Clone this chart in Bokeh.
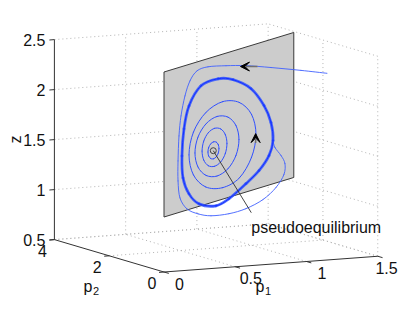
import numpy as np
from bokeh.plotting import figure
from bokeh.models import Range1d, Arrow, VeeHead
from bokeh.core.properties import value
from bokeh.embed import file_html
from bokeh.resources import INLINE

# ---------------- data ----------------
P1_RANGE = [0.0, 1.5]
P2_RANGE = [0.0, 4.0]
Z_RANGE = [0.5, 2.5]
P1_TICKS = [0.0, 0.5, 1.0, 1.5]
P1_TICK_LABELS = ["0", "0.5", "1", "1.5"]
P2_TICKS = [0.0, 2.0, 4.0]
P2_TICK_LABELS = ["0", "2", "4"]
Z_TICKS = [0.5, 1.0, 1.5, 2.0, 2.5]
Z_TICK_LABELS = ["0.5", "1", "1.5", "2", "2.5"]

# switching plane  p2 = SWITCH_SLOPE * p1
SWITCH_SLOPE = 2.0
PLANE_P1 = [0.0, 1.48]
PLANE_Z = [1.05, 2.5]

EQ_P1 = [0.562]
EQ_Z = [1.563]
EQ_LABEL = ["pseudoequilibrium"]

# trajectory arriving from outside (p1, z), lying in the switching surface p2 = 2 p1
incoming_p1 = [1.858, 1.562, 1.220, 0.935, 0.707, 0.502, 0.376, 0.296, 0.239, 0.194,
               0.171, 0.160, 0.160, 0.182, 0.262, 0.388, 0.536, 0.741, 0.935, 1.129,
               1.277, 1.368, 1.379, 1.334, 1.265, 1.243]
incoming_z = [1.991, 2.099, 2.219, 2.314, 2.374, 2.418, 2.411, 2.332, 2.197, 2.009,
              1.815, 1.568, 1.368, 1.192, 1.061, 0.978, 0.919, 0.885, 0.884, 0.923,
              1.004, 1.110, 1.217, 1.309, 1.407, 1.483]

# attracting cycle (dense band)
band_p1 = [1.243, 1.220, 1.140, 0.992, 0.787, 0.616, 0.422, 0.285, 0.228, 0.205,
           0.217, 0.285, 0.399, 0.593, 0.741, 0.935, 1.083, 1.197]
band_z = [1.483, 1.669, 1.860, 2.069, 2.213, 2.268, 2.249, 2.085, 1.870, 1.606,
          1.383, 1.205, 1.075, 1.004, 1.035, 1.134, 1.225, 1.345]

# spiral turns around the pseudoequilibrium (innermost first)
loop1_p1 = [0.627, 0.619, 0.596, 0.564, 0.533, 0.509, 0.501, 0.509, 0.533, 0.564, 0.596, 0.619]
loop1_z = [1.566, 1.609, 1.640, 1.651, 1.640, 1.609, 1.566, 1.524, 1.492, 1.481, 1.492, 1.524]
loop2_p1 = [0.718, 0.699, 0.647, 0.576, 0.505, 0.453, 0.434, 0.453, 0.505, 0.576, 0.647, 0.699]
loop2_z = [1.593, 1.688, 1.758, 1.783, 1.758, 1.688, 1.593, 1.498, 1.428, 1.403, 1.428, 1.498]
loop3_p1 = [0.855, 0.821, 0.730, 0.604, 0.479, 0.387, 0.353, 0.387, 0.479, 0.604, 0.730, 0.821]
loop3_z = [1.596, 1.745, 1.854, 1.894, 1.854, 1.745, 1.596, 1.447, 1.338, 1.298, 1.338, 1.447]
loop4_p1 = [1.049, 0.998, 0.858, 0.667, 0.476, 0.336, 0.285, 0.336, 0.476, 0.667, 0.858, 0.998]
loop4_z = [1.595, 1.810, 1.967, 2.025, 1.967, 1.810, 1.595, 1.380, 1.223, 1.165, 1.210, 1.380]

# direction arrows (start p1, start z, end p1, end z)
arrow_in = [1.066, 2.270, 0.872, 2.322]
arrow_spiral = [1.045, 1.510, 1.045, 1.605]

# ---------------- view ----------------
ORIGIN = (163.5, 271.5)          # picture px of the (p1, p2, z) range-minimum corner
E_P1 = (142.5, -10.5)
E_P2 = (-27.4, -8.1)
E_Z = (0.0, -100.0)
W, H = 399, 297


def proj(p1, p2, z):
    p1 = np.asarray(p1, float) - P1_RANGE[0]
    p2 = np.asarray(p2, float) - P2_RANGE[0]
    z = np.asarray(z, float) - Z_RANGE[0]
    X = ORIGIN[0] + E_P1[0] * p1 + E_P2[0] * p2 + E_Z[0] * z
    Y = ORIGIN[1] + E_P1[1] * p1 + E_P2[1] * p2 + E_Z[1] * z
    return X, -Y


def on_plane(p1, z):
    p1 = np.asarray(p1, float)
    return proj(p1, SWITCH_SLOPE * p1, z)


p = figure(width=W, height=H, output_backend="svg", toolbar_location=None,
           x_range=Range1d(0, W), y_range=Range1d(-H, 0),
           min_border=0, outline_line_color=None)
p.axis.visible = False
p.grid.visible = False
p.background_fill_color = "white"
p.border_fill_color = "white"

FONT = value("Liberation Sans")
TXT = "#111111"

# ---- dotted grid on back panes ----
gx0, gy0, gx1, gy1 = [], [], [], []


def seg(a, b):
    xa, ya = proj(*a)
    xb, yb = proj(*b)
    gx0.append(float(xa)); gy0.append(float(ya)); gx1.append(float(xb)); gy1.append(float(yb))


p1a, p1b = P1_RANGE
p2a, p2b = P2_RANGE
za, zb = Z_RANGE
for zt in Z_TICKS:
    seg((p1a, p2b, zt), (p1b, p2b, zt))      # back wall
    seg((p1b, p2a, zt), (p1b, p2b, zt))      # right wall
for t in P1_TICKS[1:]:
    seg((t, p2b, za), (t, p2b, zb))          # back wall verticals
    seg((t, p2a, za), (t, p2b, za))          # floor
for t in P2_TICKS[:-1]:
    seg((p1b, t, za), (p1b, t, zb))          # right wall verticals
for t in P2_TICKS[1:]:
    seg((p1a, t, za), (p1b, t, za))          # floor
p.segment(gx0, gy0, gx1, gy1, line_color="#b4b4b4", line_width=1, line_dash="1 3")

# ---- axes ----
ax = [((p1a, p2b, za), (p1a, p2b, zb)), ((p1a, p2a, za), (p1a, p2b, za)), ((p1a, p2a, za), (p1b, p2a, za))]
for a, b in ax:
    xa, ya = proj(*a)
    xb, yb = proj(*b)
    p.line([float(xa), float(xb)], [float(ya), float(yb)], line_color="#333333", line_width=1)

# ticks
tx0, ty0, tx1, ty1 = [], [], [], []
for zt in Z_TICKS:
    x, y = proj(p1a, p2b, zt)
    tx0.append(float(x)); ty0.append(float(y)); tx1.append(float(x) - 5); ty1.append(float(y) - 0.4)
for t in P2_TICKS:
    x, y = proj(p1a, t, za)
    tx0.append(float(x)); ty0.append(float(y)); tx1.append(float(x) - 5); ty1.append(float(y) - 0.4)
for t in P1_TICKS:
    x, y = proj(t, p2a, za)
    tx0.append(float(x)); ty0.append(float(y)); tx1.append(float(x) + 4.8); ty1.append(float(y) - 1.4)
p.segment(tx0, ty0, tx1, ty1, line_color="#333333", line_width=1)

# tick labels
zx, zy = proj([p1a] * len(Z_TICKS), [p2b] * len(Z_TICKS), Z_TICKS)
p.text(zx - 9, zy, text=Z_TICK_LABELS, text_font=FONT, text_font_size=value("16px"),
       text_align="right", text_baseline="middle", text_color=TXT)
qx, qy = proj([p1a] * len(P2_TICKS), P2_TICKS, [za] * len(P2_TICKS))
p.text(qx - 12, qy - 11, text=P2_TICK_LABELS, text_font=FONT, text_font_size=value("16px"),
       text_align="center", text_baseline="middle", text_color=TXT)
rx, ry = proj(P1_TICKS, [p2a] * len(P1_TICKS), [za] * len(P1_TICKS))
lx = np.minimum(rx + 15.5, W - 13)   # keep the last label inside the canvas
p.text(lx, ry - 11.5, text=P1_TICK_LABELS, text_font=FONT, text_font_size=value("16px"),
       text_align="center", text_baseline="middle", text_color=TXT)

# axis labels
p.text([15], [-139], text=["z"], angle=np.pi / 2, text_font=FONT, text_font_size=value("16px"),
       text_align="center", text_baseline="alphabetic", text_color=TXT)
p.text([83], [-285.5], text=["p"], text_font=FONT, text_font_size=value("16px"),
       text_align="left", text_baseline="alphabetic", text_color=TXT)
p.text([92.5], [-290], text=["2"], text_font=FONT, text_font_size=value("11px"),
       text_align="left", text_baseline="alphabetic", text_color=TXT)
p.text([255], [-285.5], text=["p"], text_font=FONT, text_font_size=value("16px"),
       text_align="left", text_baseline="alphabetic", text_color=TXT)
p.text([264.5], [-290], text=["1"], text_font=FONT, text_font_size=value("11px"),
       text_align="left", text_baseline="alphabetic", text_color=TXT)

# ---- switching plane ----
cp1 = [PLANE_P1[0], PLANE_P1[1], PLANE_P1[1], PLANE_P1[0]]
cz = [PLANE_Z[0], PLANE_Z[0], PLANE_Z[1], PLANE_Z[1]]
px_, py_ = on_plane(cp1, cz)
p.patch(px_, py_, fill_color="#cccccc", line_color="#3a3a3a", line_width=1)


# ---- curves (smooth through the read points) ----
def smooth_curve(p1s, zs, closed, color, width, alpha=1.0):
    xs, ys = on_plane(p1s, zs)
    n = len(xs)
    m = n if closed else n - 1
    X0, Y0, X1, Y1, C0x, C0y, C1x, C1y = [], [], [], [], [], [], [], []
    for i in range(m):
        i0 = (i - 1) % n if closed else max(i - 1, 0)
        i2 = (i + 1) % n
        i3 = (i + 2) % n if closed else min(i + 2, n - 1)
        X0.append(xs[i]); Y0.append(ys[i]); X1.append(xs[i2]); Y1.append(ys[i2])
        C0x.append(xs[i] + (xs[i2] - xs[i0]) / 6); C0y.append(ys[i] + (ys[i2] - ys[i0]) / 6)
        C1x.append(xs[i2] - (xs[i3] - xs[i]) / 6); C1y.append(ys[i2] - (ys[i3] - ys[i]) / 6)
    p.bezier(x0=X0, y0=Y0, x1=X1, y1=Y1, cx0=C0x, cy0=C0y, cx1=C1x, cy1=C1y,
             line_color=color, line_width=width, line_alpha=alpha, line_cap="round")


smooth_curve(incoming_p1, incoming_z, False, "#4060ff", 0.9)
smooth_curve(band_p1, band_z, True, "#3355ff", 2.8, 0.85)
smooth_curve(band_p1, band_z, True, "#1530ff", 1.0)
for lp, lz in [(loop1_p1, loop1_z), (loop2_p1, loop2_z), (loop3_p1, loop3_z), (loop4_p1, loop4_z)]:
    smooth_curve(lp, lz, True, "#3050ff", 1.0)

# ---- pseudoequilibrium ----
ex, ey = on_plane(EQ_P1, EQ_Z)
p.segment(ex, ey, ex + 38, ey - 62, line_color="#303030", line_width=0.9)
p.scatter(ex, ey, size=6, marker="circle", fill_color=None, line_color="#444444", line_width=1)
p.text(ex + 38, ey - 77, text=EQ_LABEL, text_font=FONT, text_font_size=value("16px"),
       text_align="left", text_baseline="alphabetic", text_color=TXT)

# ---- direction arrows ----
for a in (arrow_in, arrow_spiral):
    xs, ys = on_plane([a[0], a[2]], [a[1], a[3]])
    p.add_layout(Arrow(end=VeeHead(size=9, fill_color="black", line_color="black", line_width=1),
                       x_start=float(xs[0]), y_start=float(ys[0]), x_end=float(xs[1]), y_end=float(ys[1]),
                       line_color="#707070", line_width=1.5))

open("out.html", "w").write(file_html(p, INLINE))
